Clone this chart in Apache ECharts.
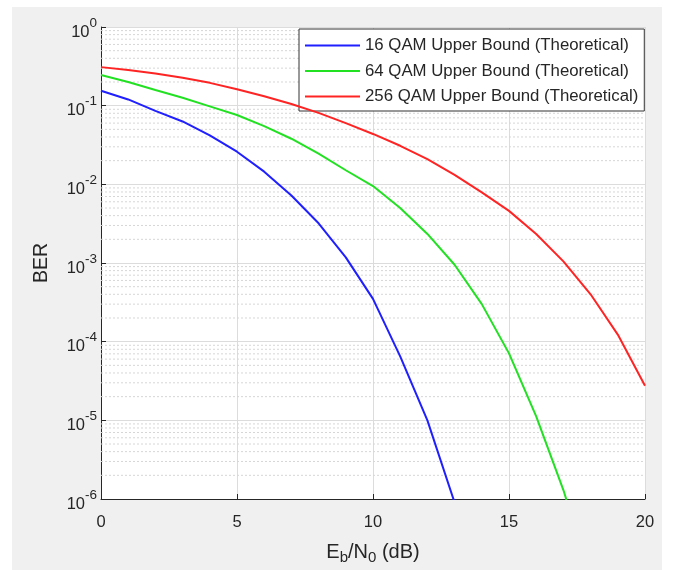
<!DOCTYPE html>
<html lang="en">
<head>
    <meta charset="UTF-8">
    <title>QAM BER</title>
    <script src="https://cdn.jsdelivr.net/npm/echarts@6/dist/echarts.min.js"></script>
    <style>
        html, body { margin: 0; padding: 0; background: #fff; }
        #main { width: 675px; height: 570px; }
    </style>
</head>
<body>
<div id="main"></div>
<script>
    // Eb/N0 (dB) sample points
    var ebno = [0, 1, 2, 3, 4, 5, 6, 7, 8, 9, 10, 11, 12, 13, 14, 15, 16, 17, 18, 19, 20];

    var ber16 = [0.155, 0.120, 0.086, 0.063, 0.042, 0.026, 0.0145, 0.0072, 0.0032, 0.00118,
                 0.00035, 6.5e-5, 1.0e-5, 9e-7];
    var ber64 = [0.245, 0.20, 0.158, 0.126, 0.098, 0.076, 0.055, 0.038, 0.0245, 0.0151,
                 0.0095, 0.0050, 0.00234, 0.00095, 0.0003, 7.1e-5, 1.12e-5, 1.3e-6, 1e-7];
    var ber256 = [0.309, 0.285, 0.257, 0.226, 0.195, 0.162, 0.132, 0.105, 0.081, 0.060,
                  0.0437, 0.0309, 0.0209, 0.0132, 0.0079, 0.0046, 0.00234, 0.00105, 0.0004, 0.000123, 2.75e-5];

    var names = ['16 QAM Upper Bound (Theoretical)', '64 QAM Upper Bound (Theoretical)', '256 QAM Upper Bound (Theoretical)'];
    var colors = ['#1f1fff', '#22e022', '#ff2424'];

    // minor grid lines of the log axis
    var decades = [1e-6, 1e-5, 1e-4, 1e-3, 1e-2, 1e-1];
    var multipliers = [2, 3, 4, 5, 6, 7, 8, 9];

    var txt = '#262626';
    var font = 'Liberation Sans, Arial, Helvetica, sans-serif';

    function pairs(y) {
        var out = [];
        for (var i = 0; i < y.length; i++) out.push([ebno[i], y[i]]);
        return out;
    }

    // one dotted line per minor value, broken with '-' between them
    var minorLines = [];
    decades.forEach(function (d) {
        multipliers.forEach(function (m) {
            var v = d * m;
            minorLines.push([ebno[0], v], [ebno[ebno.length - 1], v], [ebno[ebno.length - 1], '-']);
        });
    });

    var myChart = echarts.init(document.getElementById('main'));

    var option = {
        backgroundColor: '#ffffff',
        animation: false,
        textStyle: {fontFamily: font, color: txt},
        graphic: {
            z: -10,
            elements: [{
                type: 'rect', z: -10,
                shape: {x: 12, y: 7, width: 650, height: 563},
                style: {fill: '#f0f0f0'}
            }]
        },
        grid: {
            left: 101, right: 30, top: 27, bottom: 67,
            show: true, backgroundColor: '#ffffff', borderWidth: 0
        },
        legend: {
            orient: 'vertical',
            left: 299, top: 29,
            padding: [8, 6, 6, 6],
            backgroundColor: '#ffffff',
            borderColor: '#333333',
            borderWidth: 1,
            borderRadius: 0,
            icon: 'path://M0,0 L55,0 L55,2 L0,2 Z',
            itemWidth: 55,
            itemHeight: 14,
            itemGap: 8.5,
            textStyle: {fontSize: 16.8, color: txt, fontFamily: font},
            data: names
        },
        xAxis: {
            type: 'value',
            min: 0, max: 20, interval: 5,
            name: '{n|E}{u|b}{n|/N}{u|0}{n| (dB)}',
            nameLocation: 'middle',
            nameGap: 40,
            nameTextStyle: {
                rich: {
                    n: {fontSize: 20, color: txt, fontFamily: font},
                    u: {fontSize: 15, color: txt, fontFamily: font, padding: [11, 0, 0, 0]}
                }
            },
            axisLine: {show: true, onZero: false, lineStyle: {color: txt, width: 1}},
            axisTick: {show: true, inside: true, length: 5, lineStyle: {color: txt}},
            axisLabel: {fontSize: 16.5, color: txt, margin: 15},
            splitLine: {show: true, lineStyle: {color: '#dcdcdc', width: 1}}
        },
        yAxis: {
            type: 'log',
            logBase: 10,
            min: 1e-6, max: 1,
            name: 'BER',
            nameLocation: 'middle',
            nameGap: 49,
            nameTextStyle: {fontSize: 19.5, color: txt},
            axisLine: {show: true, lineStyle: {color: txt, width: 1}},
            axisTick: {show: true, inside: true, length: 5, lineStyle: {color: txt}},
            axisLabel: {
                margin: 4,
                formatter: function (v) {
                    return '{b|10}{s|' + Math.round(Math.log10(v)) + '}';
                },
                rich: {
                    b: {fontSize: 16.5, color: txt, fontFamily: font, padding: [10, 0, 0, 0]},
                    s: {fontSize: 13.5, color: txt, fontFamily: font, padding: [0, 0, 8, 0]}
                }
            },
            splitLine: {show: true, lineStyle: {color: '#dcdcdc', width: 1}}
        },
        series: [
            {
                name: 'minor', type: 'line', data: minorLines,
                symbol: 'none', silent: true, connectNulls: false, z: 1,
                lineStyle: {color: '#d6d6d6', type: [2, 2], width: 1},
                emphasis: {disabled: true}
            },
            {
                name: names[0], type: 'line', data: pairs(ber16),
                symbol: 'none', clip: true, z: 5,
                lineStyle: {color: colors[0], width: 2}, itemStyle: {color: colors[0]}
            },
            {
                name: names[1], type: 'line', data: pairs(ber64),
                symbol: 'none', clip: true, z: 5,
                lineStyle: {color: colors[1], width: 2}, itemStyle: {color: colors[1]}
            },
            {
                name: names[2], type: 'line', data: pairs(ber256),
                symbol: 'none', clip: true, z: 5,
                lineStyle: {color: colors[2], width: 2}, itemStyle: {color: colors[2]}
            }
        ]
    };

    myChart.setOption(option);
</script>
</body>
</html>
